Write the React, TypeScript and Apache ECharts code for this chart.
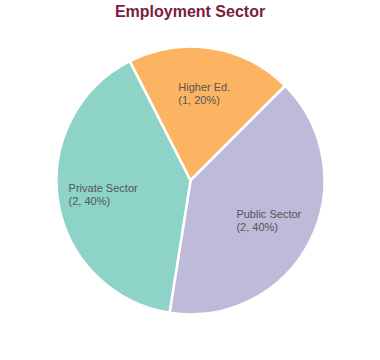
import React, { useEffect, useRef } from "react";
import * as echarts from "echarts";

const categories = ["Higher Ed.", "Public Sector", "Private Sector"];
const values = [1, 2, 2];
const sliceColors = ["#fdb462", "#bebada", "#8dd3c7"];
const titleText = "Employment Sector";

const LABEL_FONT = '"Liberation Sans", Arial, sans-serif';

function measure(text: string): number {
  const c = document.createElement("canvas");
  const ctx = c.getContext("2d");
  if (!ctx) return text.length * 6;
  ctx.font = `11px ${LABEL_FONT}`;
  return ctx.measureText(text).width;
}

export default function App() {
  const ref = useRef<HTMLDivElement>(null);
  useEffect(() => {
    if (!ref.current) return;
    const chart = echarts.init(ref.current, undefined, { renderer: "svg" });
    const total = values.reduce((a, b) => a + b, 0);
    const lines = categories.map((c, i) => [
      c,
      `(${values[i]}, ${Math.round((values[i] / total) * 100)}%)`,
    ]);
    const baseData = categories.map((c, i) => ({
      name: c,
      value: values[i],
      itemStyle: { color: sliceColors[i] },
    }));
    const labelData = categories.map((c, i) => ({
      name: c,
      value: values[i],
      label: {
        width: Math.ceil(Math.max(measure(lines[i][0]), measure(lines[i][1]))),
        formatter: `{a|${lines[i][0]}}\n{a|${lines[i][1]}}`,
      },
    }));
    chart.setOption({
      animation: false,
      title: {
        text: titleText,
        left: "center",
        top: 3,
        padding: 0,
        textStyle: {
          color: "#7a1d3f",
          fontSize: 16,
          fontWeight: "bold",
          fontFamily: LABEL_FONT,
        },
      },
      series: [
        {
          type: "pie",
          center: [190.5, 180.5],
          radius: 134,
          startAngle: 117,
          clockwise: true,
          silent: true,
          label: { show: false },
          labelLine: { show: false },
          itemStyle: { borderColor: "#ffffff", borderWidth: 2.5 },
          data: baseData,
        },
        {
          type: "pie",
          center: [190.5, 180.5],
          radius: [36, 134],
          startAngle: 117,
          clockwise: true,
          silent: true,
          z: 5,
          itemStyle: { color: "transparent", borderWidth: 0 },
          labelLine: { show: false },
          label: {
            show: true,
            position: "inside",
            color: "#555555",
            fontSize: 11,
            fontFamily: LABEL_FONT,
            lineHeight: 13,
            rich: {
              a: {
                align: "left",
                color: "#555555",
                fontSize: 11,
                fontFamily: LABEL_FONT,
                lineHeight: 13,
              },
            },
          },
          data: labelData,
        },
      ],
    });
    return () => chart.dispose();
  }, []);
  return (
    <div
      ref={ref}
      style={{ position: "fixed", left: 0, top: 0, width: 380, height: 360, background: "#ffffff" }}
    />
  );
}
